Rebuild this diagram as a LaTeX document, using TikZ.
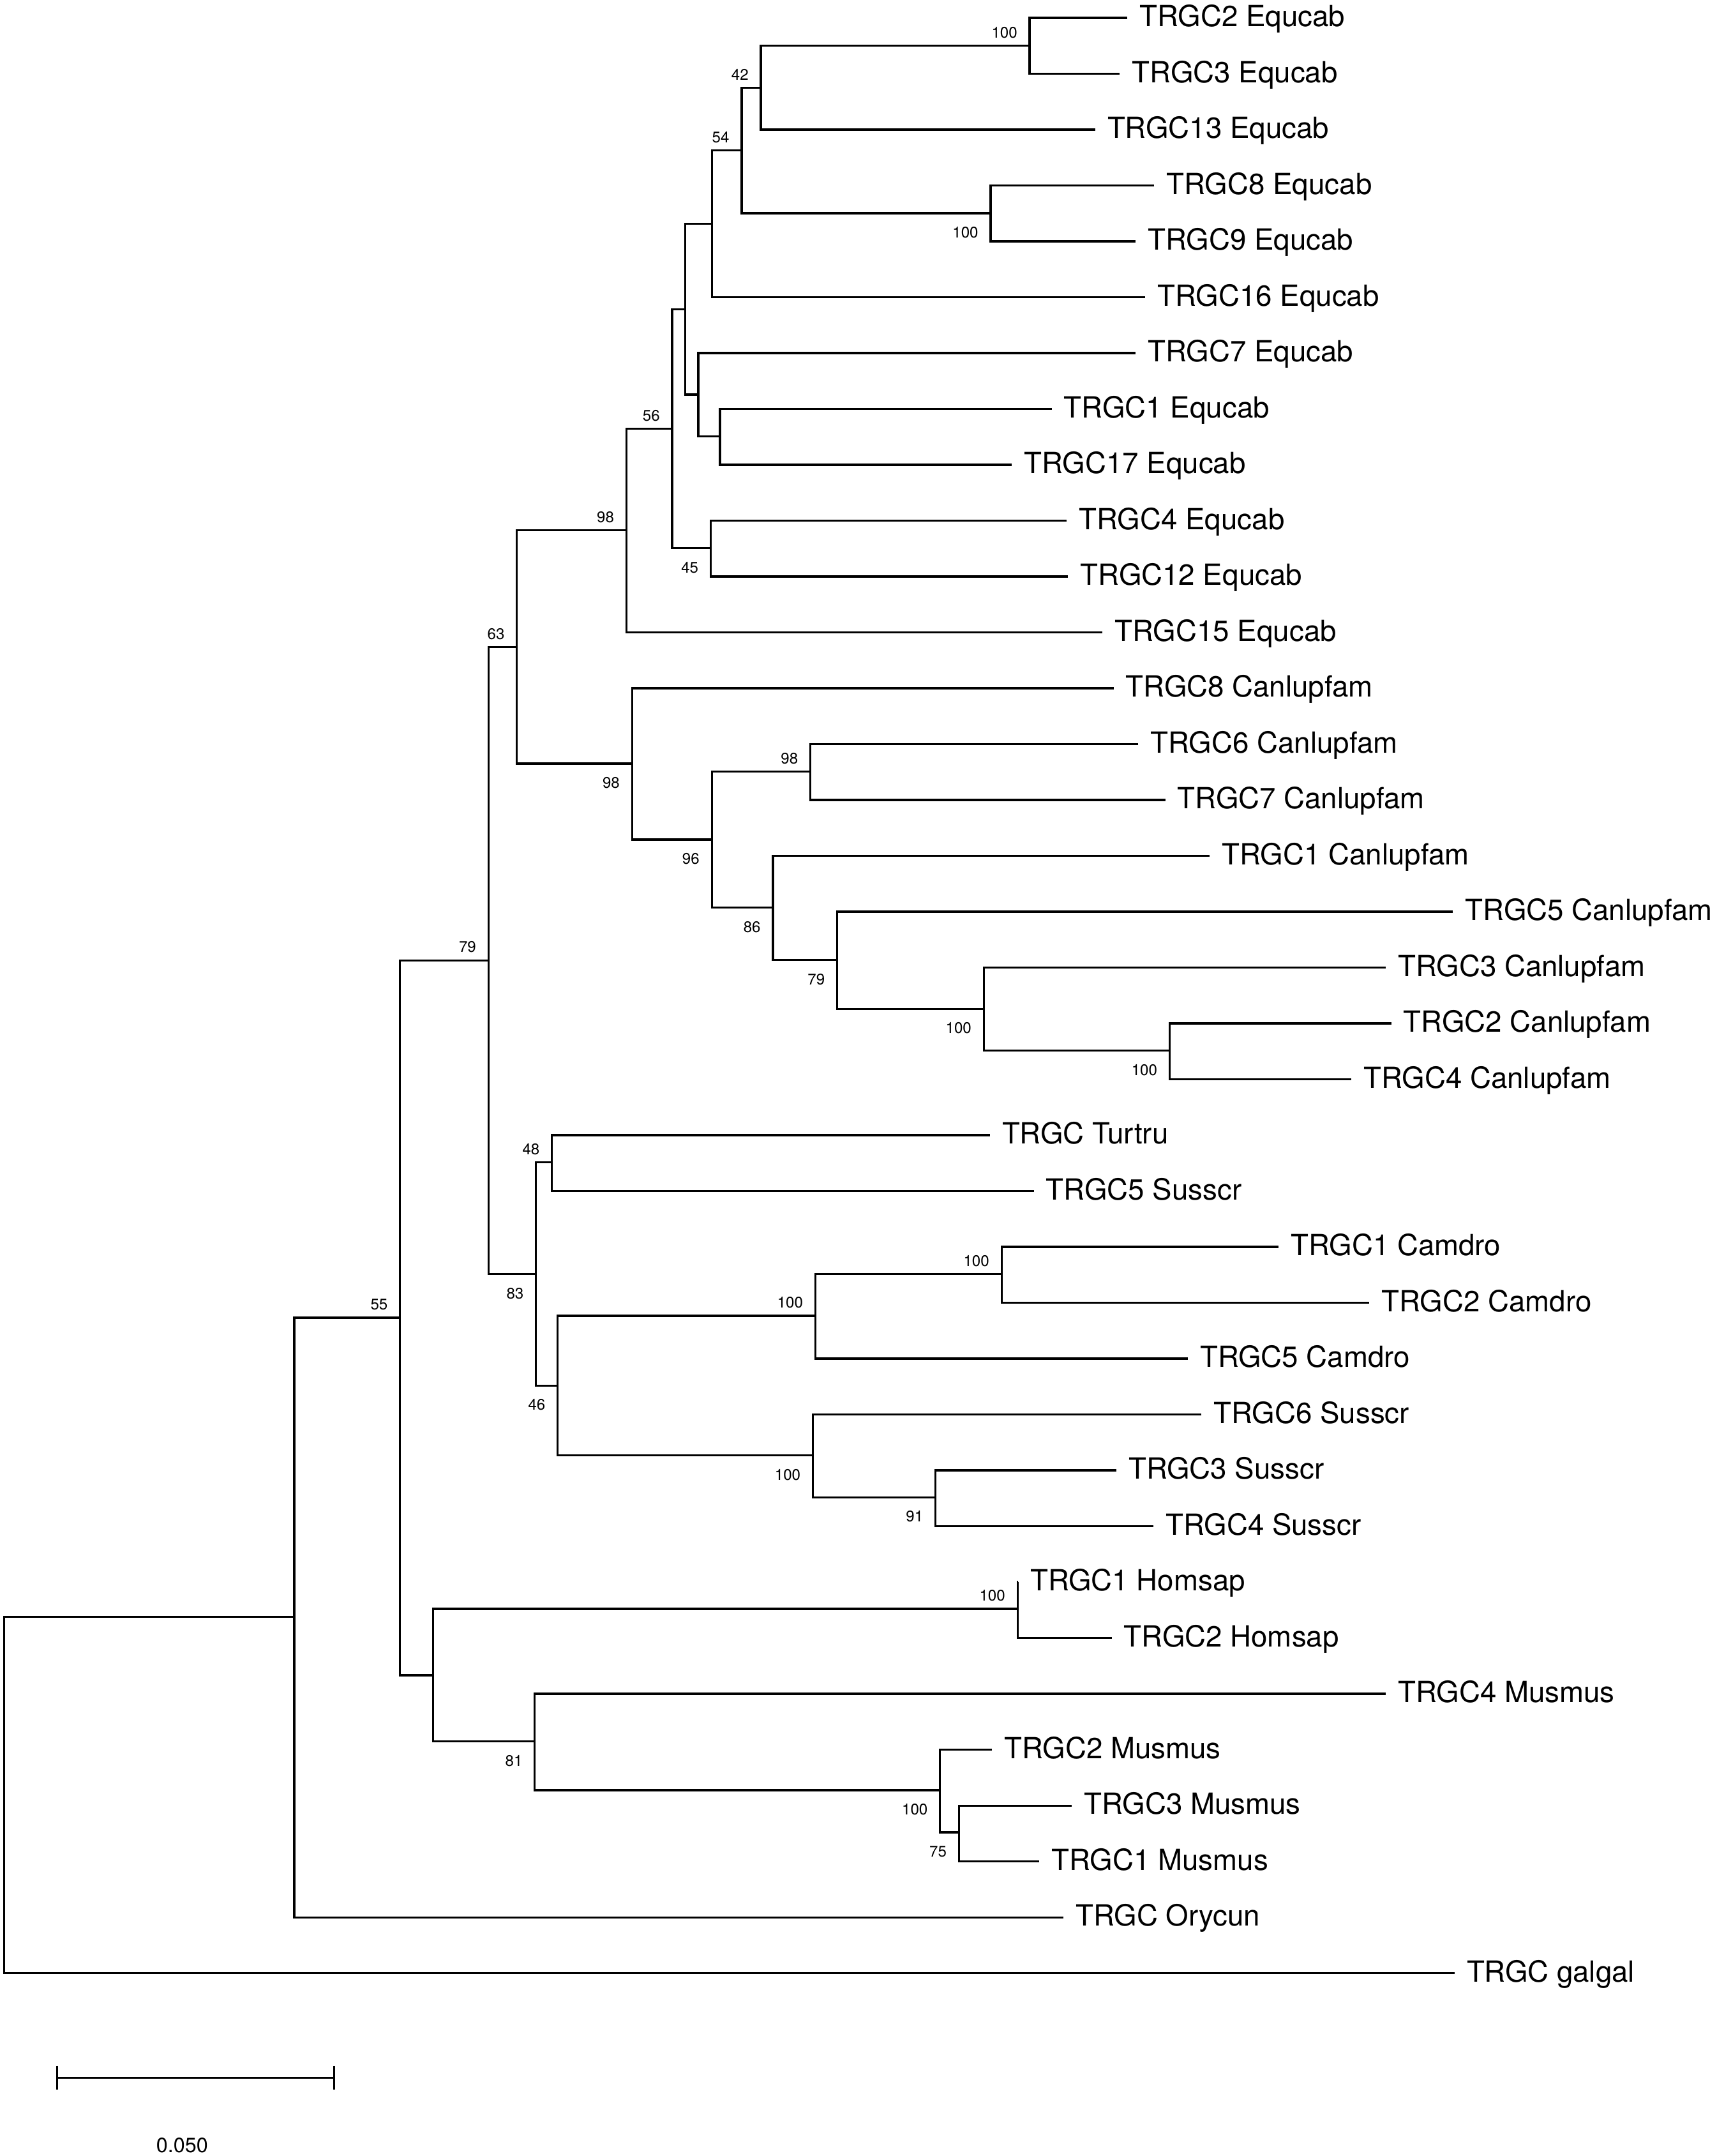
\documentclass[tikz,border=0pt]{standalone}
\usepackage{fontspec}
\setmainfont{TeX Gyre Heros}
\begin{document}
\begin{tikzpicture}[
x=0.5pt, y=-0.5pt,
  branch/.style = {draw, line width=0.78pt, line join=miter},% tree lines
    leaf/.style = {anchor=west, inner xsep=4.5pt, inner ysep=0pt, outer sep=0pt,
                   font=\fontsize{10.6}{12}\selectfont,
                   text height=7.95pt, text depth=1.6pt},
    bsup/.style = {anchor=south east, inner sep=0pt, outer sep=0pt,
                   xshift=-4.5pt, yshift=2.8pt, font=\fontsize{5.6}{6}\selectfont},
  bsdown/.style = {anchor=north east, inner sep=0pt, outer sep=0pt,
                   xshift=-4.5pt, yshift=-5pt, font=\fontsize{5.6}{6}\selectfont},
scalelab/.style = {inner sep=0pt, font=\fontsize{7.5}{9}\selectfont},
                        ]
\useasboundingbox (0,0) rectangle (1249,1568);
% leaves: end of branch / name
\foreach \x/\t [count=\i] in {820/TRGC2 Equcab, 814.6/TRGC3 Equcab, 796.6/TRGC13 Equcab,
    839.6/TRGC8 Equcab, 826/TRGC9 Equcab, 833/TRGC16 Equcab, 826/TRGC7 Equcab,
    765/TRGC1 Equcab, 736/TRGC17 Equcab, 776/TRGC4 Equcab, 777/TRGC12 Equcab,
    802/TRGC15 Equcab, 810/TRGC8 Canlupfam, 828/TRGC6 Canlupfam, 847.6/TRGC7 Canlupfam,
    880/TRGC1 Canlupfam, 1057/TRGC5 Canlupfam, 1008/TRGC3 Canlupfam, 1012/TRGC2 Canlupfam,
    983/TRGC4 Canlupfam, 720/TRGC Turtru, 752/TRGC5 Susscr, 930/TRGC1 Camdro,
    996/TRGC2 Camdro, 864/TRGC5 Camdro, 874/TRGC6 Susscr, 812/TRGC3 Susscr,
    839/TRGC4 Susscr, 740.5/TRGC1 Homsap, 808.6/TRGC2 Homsap, 1008/TRGC4 Musmus,
    721.6/TRGC2 Musmus, 779.6/TRGC3 Musmus, 756/TRGC1 Musmus, 773.5/TRGC Orycun,
    1058/TRGC galgal}
    \node[leaf] (l\i) at (\x, {13+(\i-1)*40.63}) {\t};
% inner nodes
\foreach \n/\x/\y in {A/749/33.3, B/553.5/63.8, D/720.6/155.1, C/539.5/109.4,
    E/518/162.7, G/523.7/317.5, F/508/287, I/498.5/224.9, H/517/398.7, J/489/311.8,
    K/455.7/385.7, L/589.5/561.1, M/850.8/764.1, N/715.6/733.7, O/609/698.1,
    P/562.3/660.1, Q/517.8/610.6, R/459.8/555.4, S/376/470.6, T/401.5/845.3,
    U/728.6/926.5, V/593.1/957, W/680.5/1088.9, X/591.3/1058.5, Y/405.7/1007.7,
    Z/389.9/926.5, AA/355.3/698.5, BB/740.2/1170.1, CC/697.6/1332.5, DD/683.8/1302,
    EE/389/1266.5, FF/315/1218.3, GG/291/958.4, HH/214/1175.9, root/3/1305}
    \coordinate (n\n) at (\x,\y);
% branches: parent / upper child / lower child
\foreach \p/\a/\b in {nA/l1.west/l2.west, nB/nA/l3.west, nD/l4.west/l5.west, nC/nB/nD,
    nE/nC/l6.west, nG/l8.west/l9.west, nF/l7.west/nG, nI/nE/nF, nH/l10.west/l11.west,
    nJ/nI/nH, nK/nJ/l12.west, nL/l14.west/l15.west, nM/l19.west/l20.west,
    nN/l18.west/nM, nO/l17.west/nN, nP/l16.west/nO, nQ/nL/nP, nR/l13.west/nQ,
    nS/nK/nR, nT/l21.west/l22.west, nU/l23.west/l24.west, nV/nU/l25.west,
    nW/l27.west/l28.west, nX/l26.west/nW, nY/nV/nX, nZ/nT/nY, nAA/nS/nZ,
    nBB/l29.west/l30.west, nCC/l33.west/l34.west, nDD/l32.west/nCC, nEE/l31.west/nDD,
    nFF/nBB/nEE, nGG/nAA/nFF, nHH/nGG/l35.west, nroot/nHH/l36.west}
    \draw[branch] (\a) -| (\p) |- (\b);
% bootstrap values
\foreach \n/\v in {A/100, B/42, C/54, J/56, K/98, S/63, L/98, AA/79, T/48, U/100,
    V/100, GG/55, BB/100}
    \node[bsup] (b\n) at (n\n) {\v};
\foreach \n/\v in {D/100, H/45, R/98, Q/96, P/86, O/79, N/100, M/100, Z/83, X/100,
    Y/46, W/91, EE/81, DD/100, CC/75}
    \node[bsdown] (b\n) at (n\n) {\v};
% scale bar
\coordinate (sbL) at (41.7,1511);
\coordinate (sbR) at (243,1511);
\draw[branch] (sbL) -- (sbR);
\draw[branch] ([yshift=4.33pt]sbL) -- ([yshift=-4.33pt]sbL);
\draw[branch] ([yshift=4.33pt]sbR) -- ([yshift=-4.33pt]sbR);
\node[scalelab] (sbtxt) at (132.5,1560) {0.050};
\end{tikzpicture}
\end{document}
